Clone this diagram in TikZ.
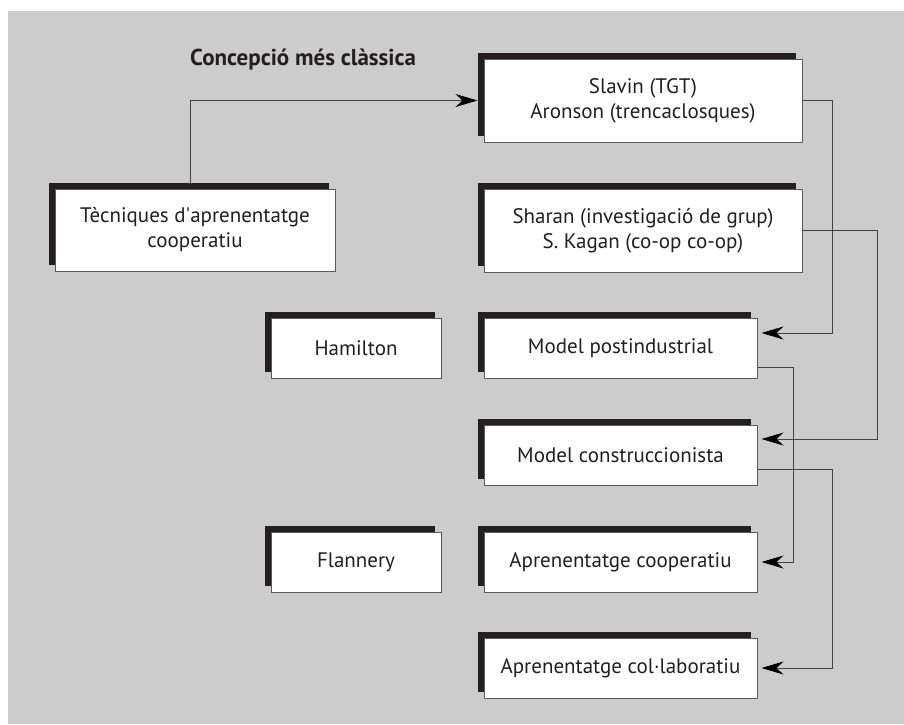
\documentclass[tikz,border=0pt]{standalone}
\usepackage{fontspec}
\setmainfont{PT Sans}
\usetikzlibrary{shadows,arrows.meta}
\definecolor{bggray}{HTML}{CCCCCC}
\definecolor{ink}{HTML}{231F20}
\definecolor{edge}{HTML}{5A5A5A}
\begin{document}
\begin{tikzpicture}[x=1pt,y=-1pt,
  box/.style={draw=edge,line width=1pt,fill=white,inner sep=0pt,align=center,
    text=ink,font=\fontsize{21}{25}\selectfont,
    general shadow={fill=ink,shadow xshift=-6pt,shadow yshift=6pt}},
  conn/.style={draw=ink!85,line width=1pt},
  arr/.style={conn,-{Stealth[length=22pt,width=13pt,inset=7pt,fill=black,color=black]},shorten >=4pt},
  title/.style={text=ink,font=\fontsize{23}{26}\selectfont\bfseries,inner sep=0pt,anchor=west}]
\useasboundingbox (0,0) rectangle (904,724);
\fill[white] (0,0) rectangle (904,724);
\fill[bggray] (8,11) rectangle (904,724);
\node[title] (ttl) at (190,60) {Concepció més clàssica};
\node[box,minimum width=280pt,minimum height=82pt] (tec) at (195,230) {Tècniques d\textquotesingle aprenentatge\\cooperatiu};
\node[box,minimum width=318pt,minimum height=83pt] (slavin) at (643,100.5) {Slavin (TGT)\\Aronson (trencaclosques)};
\node[box,minimum width=318pt,minimum height=83pt] (sharan) at (643,230.5) {Sharan (investigació de grup)\\S. Kagan (co-op co-op)};
\node[box,minimum width=170pt,minimum height=60pt] (hamilton) at (356,348) {Hamilton};
\node[box,minimum width=273pt,minimum height=60pt] (postind) at (620.5,348) {Model postindustrial};
\node[box,minimum width=273pt,minimum height=60pt] (constr) at (620.5,455) {Model construccionista};
\node[box,minimum width=170pt,minimum height=60pt] (flannery) at (356,562) {Flannery};
\node[box,minimum width=273pt,minimum height=60pt] (coop) at (620.5,562) {Aprenentatge cooperatiu};
\node[box,minimum width=273pt,minimum height=60pt] (colab) at (620.5,668) {Aprenentatge col·laboratiu};
\coordinate (tecup) at ([xshift=-5pt,yshift=6pt]tec.north);
\draw[arr,shorten >=6pt] (tecup) |- (slavin.west);
\draw[arr] (slavin.east) -| (832,300) |- ([yshift=15pt]postind.east);
\draw[arr] (sharan.east) -| (877,300) |- ([yshift=16pt]constr.east);
\draw[arr] ([yshift=-19pt]postind.east) -| (793,450) |- (coop.east);
\draw[arr] ([yshift=-14pt]constr.east) -| (832,600) |- (colab.east);
\end{tikzpicture}
\end{document}
